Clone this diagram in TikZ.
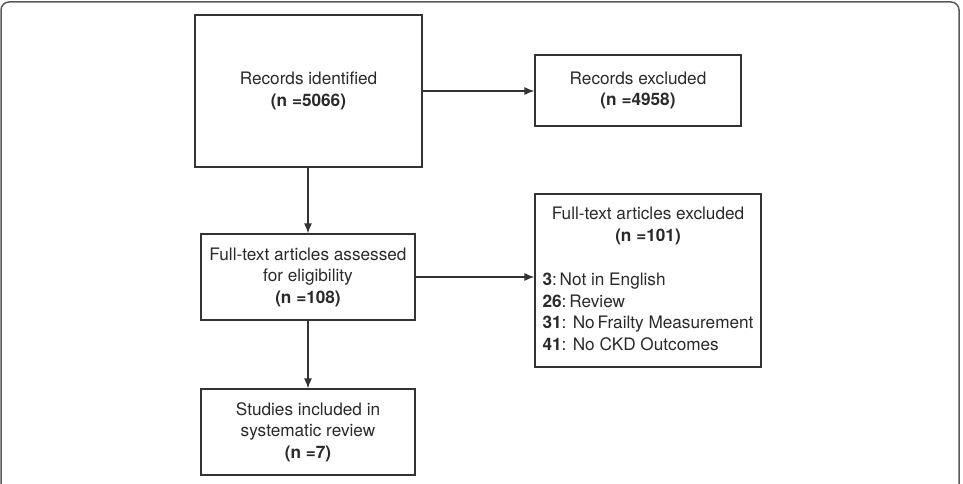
\documentclass[tikz,border=0pt]{standalone}
\usepackage{fontspec}
\setmainfont{TeX Gyre Heros}
\usepackage{xcolor}
\usepackage{tikz}
\usetikzlibrary{arrows.meta}
\definecolor{linegray}{HTML}{333333}
\definecolor{framegray}{HTML}{5A5A5A}
\definecolor{textgray}{HTML}{2A2A2A}

\begin{document}
\begin{tikzpicture}[x=1pt, y=-1pt,
  box/.style={rectangle, draw=linegray, line width=1.2pt, fill=white,
    align=center, inner sep=0pt, text=textgray,
    font=\fontsize{17.2}{21.5}\selectfont},
  arr/.style={draw=linegray, line width=1.2pt, -{Latex[length=10pt,width=8pt]}}]
\useasboundingbox (0,0) rectangle (963,484);
\draw[framegray, line width=1.5pt, rounded corners=8pt] (1,490) -- (1,2) -- (959,2) -- (959,490);
\node[box, minimum width=227pt, minimum height=152pt] (ident) at (308.5,91)
  {Records identified\\ \textbf{(n =5066)}};
\node[box, minimum width=206pt, minimum height=71pt] (excl) at (638,90.5)
  {Records excluded\\ \textbf{(n =4958)}};
\node[box, minimum width=214pt, minimum height=86pt] (assess) at (308,277)
  {Full-text articles assessed\\ for eligibility\\ \textbf{(n =108)}};
\node[box, minimum width=226pt, minimum height=173pt] (ftexcl) at (648,280.5)
  {\begin{tabular}{@{}l@{}}
  \multicolumn{1}{@{}c@{}}{Full-text articles excluded}\\
  \multicolumn{1}{@{}c@{}}{\textbf{(n =101)}}\\[23pt]
  \textbf{3}:\,Not in English\\
  \textbf{26}:\,Review\\
  \textbf{31}: No\,Frailty Measurement\\
  \textbf{41}: No CKD Outcomes
  \end{tabular}};
\node[box, minimum width=214pt, minimum height=86pt] (incl) at (308,432)
  {Studies included in\\ systematic review\\ \textbf{(n =7)}};
\draw[arr] (ident.east) -- (ident.east -| excl.west);
\draw[arr] (ident.south -| assess.north) -- (assess.north);
\draw[arr] (assess.east) -- (assess.east -| ftexcl.west);
\draw[arr] (assess.south) -- (incl.north);
\end{tikzpicture}
\end{document}
